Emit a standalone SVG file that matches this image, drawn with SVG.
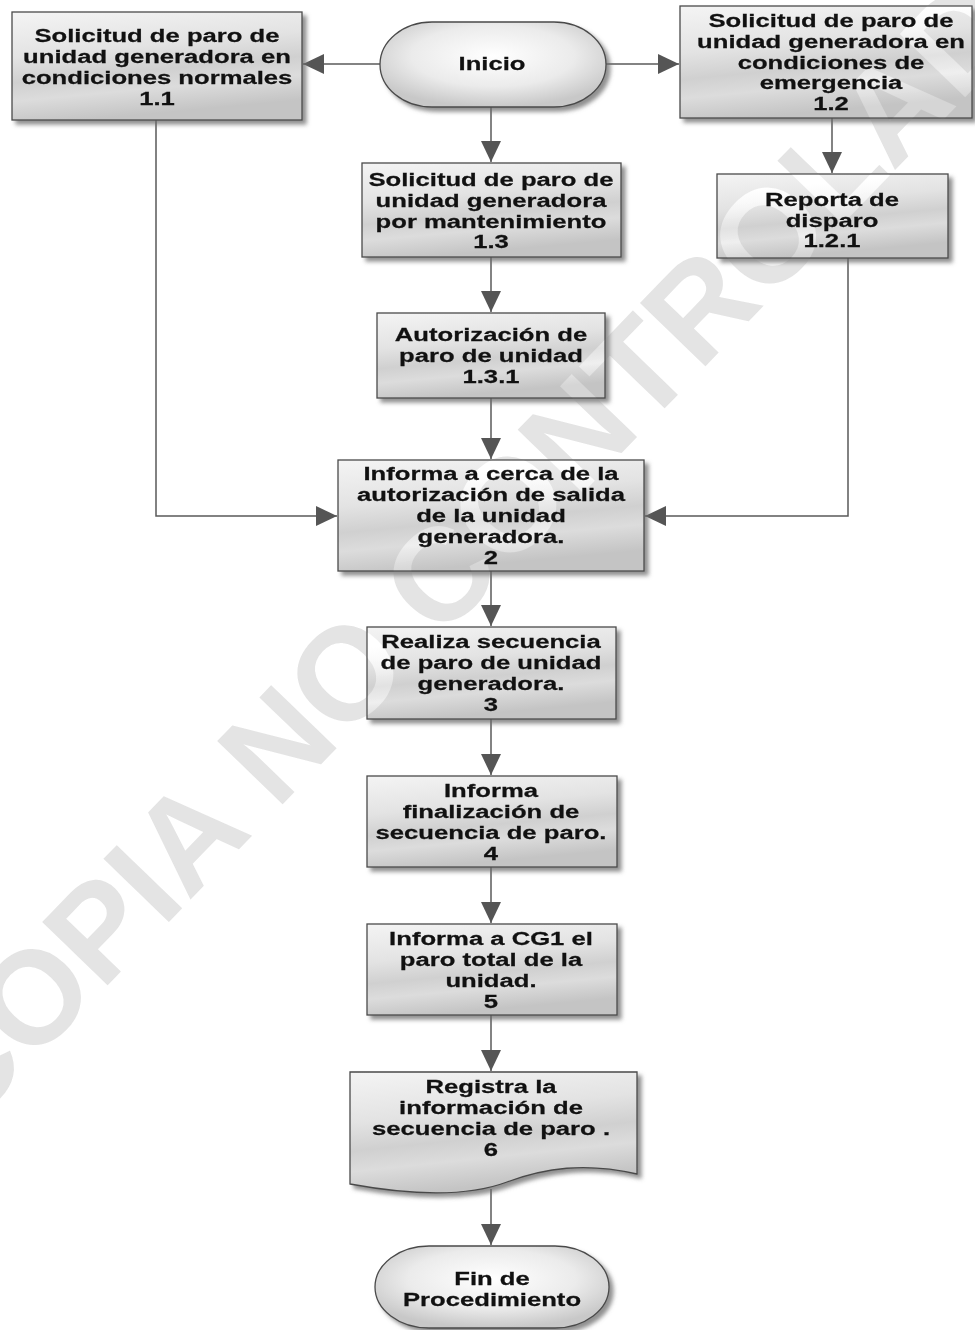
<svg xmlns="http://www.w3.org/2000/svg" xmlns:xlink="http://www.w3.org/1999/xlink" width="975" height="1330" viewBox="0 0 975 1330">
<style>
.box{fill:url(#gBox);stroke:#4a4a4a;stroke-width:1.3;filter:url(#sh)}
.term{fill:url(#gTerm);stroke:#4a4a4a;stroke-width:1.3;filter:url(#sh)}
.t{font-family:"Liberation Sans",Arial,sans-serif;font-weight:bold;font-size:19px;fill:#111;stroke:#111;stroke-width:0.25;text-anchor:middle}
.c{fill:none;stroke:#5a5a5a;stroke-width:1.5;marker-end:url(#ah)}
.wm{font-family:"Liberation Sans",Arial,sans-serif;font-weight:bold;font-size:132px}
</style>
<defs>
<linearGradient id="gBox" x1="0" y1="0" x2="0.25" y2="1">
<stop offset="0" stop-color="#f4f4f4"/>
<stop offset="0.4" stop-color="#e3e3e3"/>
<stop offset="0.62" stop-color="#d0d0d0"/>
<stop offset="0.78" stop-color="#dcdcdc"/>
<stop offset="1" stop-color="#c4c4c4"/>
</linearGradient>
<radialGradient id="gTerm" cx="0.5" cy="0.4" r="0.6">
<stop offset="0" stop-color="#ffffff"/>
<stop offset="0.6" stop-color="#ebebeb"/>
<stop offset="1" stop-color="#c8c8c8"/>
</radialGradient>
<filter id="sh" x="-10%" y="-10%" width="125%" height="130%">
<feDropShadow dx="4" dy="4" stdDeviation="2" flood-color="#6a6a6a" flood-opacity="0.75"/>
</filter>
<marker id="ah" markerUnits="userSpaceOnUse" markerWidth="22" markerHeight="20" refX="21" refY="10" orient="auto">
<path d="M0,0 L21,10 L0,20 z" fill="#555"/>
</marker>
<text id="wm" class="wm" transform="translate(-36,1134) rotate(-46)">COPIA NO CONTROLADA</text>
</defs>
<rect width="975" height="1330" fill="#fff"/>
<use xlink:href="#wm" fill="#d2d2d2"/>

<g id="connectors">
<path class="c" d="M380,64 H303"/>
<path class="c" d="M606,64 H679"/>
<path class="c" d="M491,107 V162"/>
<path class="c" d="M832,118 V173"/>
<path class="c" d="M491,257 V312"/>
<path class="c" d="M491,398 V459"/>
<path class="c" d="M156,120 V516 H337"/>
<path class="c" d="M848,258 V516 H645"/>
<path class="c" d="M491,571 V626"/>
<path class="c" d="M491,719 V775"/>
<path class="c" d="M491,867 V923"/>
<path class="c" d="M491,1015 V1071"/>
<path class="c" d="M491,1189 V1245"/>
</g>

<g id="n11">
<rect class="box" x="12" y="12" width="290" height="108"/>
<text class="t" transform="matrix(1.35 0 0 1 157 0)"><tspan x="0" y="42.5">Solicitud de paro de</tspan><tspan x="0" y="63.5">unidad generadora en</tspan><tspan x="0" y="84.5">condiciones normales</tspan><tspan x="0" y="105.5">1.1</tspan></text>
</g>

<g id="inicio">
<rect class="term" x="380" y="22" width="226" height="85" rx="52" ry="42.5"/>
<text class="t" transform="matrix(1.35 0 0 1 492 0)"><tspan x="0" y="70.5">Inicio</tspan></text>
</g>

<g id="n12">
<rect class="box" x="680" y="6" width="292" height="112"/>
<text class="t" transform="matrix(1.35 0 0 1 831 0)"><tspan x="0" y="27">Solicitud de paro de</tspan><tspan x="0" y="48">unidad generadora en</tspan><tspan x="0" y="69">condiciones de</tspan><tspan x="0" y="89.5">emergencia</tspan><tspan x="0" y="110">1.2</tspan></text>
</g>

<g id="n13">
<rect class="box" x="362" y="163" width="259" height="94"/>
<text class="t" transform="matrix(1.35 0 0 1 491 0)"><tspan x="0" y="186">Solicitud de paro de</tspan><tspan x="0" y="207">unidad generadora</tspan><tspan x="0" y="228">por mantenimiento</tspan><tspan x="0" y="248.5">1.3</tspan></text>
</g>

<g id="n121">
<rect class="box" x="717" y="174" width="231" height="84"/>
<text class="t" transform="matrix(1.35 0 0 1 832 0)"><tspan x="0" y="206">Reporta de</tspan><tspan x="0" y="227">disparo</tspan><tspan x="0" y="247.5">1.2.1</tspan></text>
</g>

<g id="n131">
<rect class="box" x="377" y="313" width="228" height="85"/>
<text class="t" transform="matrix(1.35 0 0 1 491 0)"><tspan x="0" y="341.5">Autorización de</tspan><tspan x="0" y="362.5">paro de unidad</tspan><tspan x="0" y="383.5">1.3.1</tspan></text>
</g>

<g id="n2">
<rect class="box" x="338" y="460" width="306" height="111"/>
<text class="t" transform="matrix(1.35 0 0 1 491 0)"><tspan x="0" y="480">Informa a cerca de la</tspan><tspan x="0" y="501">autorización de salida</tspan><tspan x="0" y="522">de la unidad</tspan><tspan x="0" y="543">generadora.</tspan><tspan x="0" y="564">2</tspan></text>
</g>

<g id="n3">
<rect class="box" x="367" y="627" width="249" height="92"/>
<text class="t" transform="matrix(1.35 0 0 1 491 0)"><tspan x="0" y="648">Realiza secuencia</tspan><tspan x="0" y="669">de paro de unidad</tspan><tspan x="0" y="690">generadora.</tspan><tspan x="0" y="711">3</tspan></text>
</g>

<g id="n4">
<rect class="box" x="367" y="776" width="250" height="91"/>
<text class="t" transform="matrix(1.35 0 0 1 491 0)"><tspan x="0" y="797">Informa</tspan><tspan x="0" y="818">finalización de</tspan><tspan x="0" y="839">secuencia de paro.</tspan><tspan x="0" y="860">4</tspan></text>
</g>

<g id="n5">
<rect class="box" x="367" y="924" width="250" height="91"/>
<text class="t" transform="matrix(1.35 0 0 1 491 0)"><tspan x="0" y="945">Informa a CG1 el</tspan><tspan x="0" y="966">paro total de la</tspan><tspan x="0" y="987">unidad.</tspan><tspan x="0" y="1008">5</tspan></text>
</g>

<g id="n6">
<path class="box" d="M350,1072 H637 V1174 C585,1162 545,1168 507,1182 C467,1197 410,1195 350,1184 Z"/>
<text class="t" transform="matrix(1.35 0 0 1 491 0)"><tspan x="0" y="1093.5">Registra la</tspan><tspan x="0" y="1114.5">información de</tspan><tspan x="0" y="1135.5">secuencia de paro .</tspan><tspan x="0" y="1156">6</tspan></text>
</g>

<g id="fin">
<rect class="term" x="375" y="1246" width="234" height="82" rx="54" ry="41"/>
<text class="t" transform="matrix(1.35 0 0 1 492 0)"><tspan x="0" y="1285">Fin de</tspan><tspan x="0" y="1306">Procedimiento</tspan></text>
</g>

<use xlink:href="#wm" fill="#141414" style="mix-blend-mode:color-dodge"/>
</svg>
